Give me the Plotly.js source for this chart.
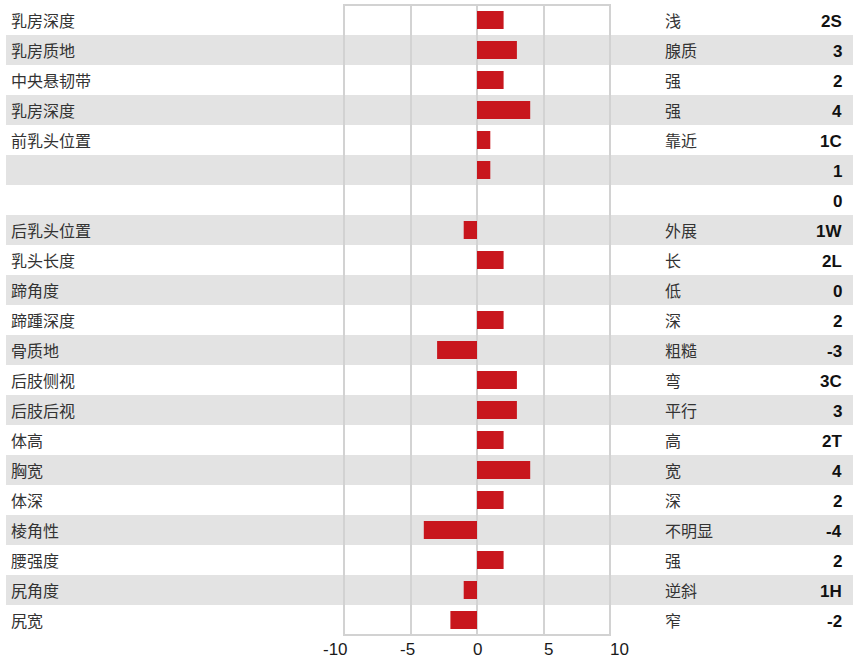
<!DOCTYPE html>
<html>
<head>
<meta charset="utf-8">
<script src="https://cdn.plot.ly/plotly-3.0.1.min.js"></script>
<style>html,body{margin:0;padding:0;background:#fff;}#chart{width:861px;height:659px;}</style>
</head>
<body>
<div id="chart"></div>
<script>
const traitNames = ["乳房深度","乳房质地","中央悬韧带","乳房深度","前乳头位置","","","后乳头位置","乳头长度","蹄角度","蹄踵深度","骨质地","后肢侧视","后肢后视","体高","胸宽","体深","棱角性","腰强度","尻角度","尻宽"];
const traitDescriptions = ["浅","腺质","强","强","靠近","","","外展","长","低","深","粗糙","弯","平行","高","宽","深","不明显","强","逆斜","窄"];
const scoreLabels = ["2S","3","2","4","1C","1","0","1W","2L","0","2","-3","3C","3","2T","4","2","-4","2","1H","-2"];
const barValues = [2,3,2,4,1,1,0,-1,2,0,2,-3,3,3,2,4,2,-4,2,-1,-2];
const xTicks = [-10,-5,0,5,10];

const rowIdx = traitNames.map((_, i) => i);

const W = 861, H = 659, L = 344, R = 251, T = 5, B = 24;
const plotW = W - L - R, plotH = H - T - B;
const px = v => (v - L) / plotW;
const py = v => (H - B - v) / plotH;

const shapes = [];
rowIdx.forEach(i => {
  if (i % 2 === 1) {
    shapes.push({type:'rect', layer:'below', xref:'paper', yref:'y',
      x0: px(6), x1: px(853), y0: i - 0.5, y1: i + 0.5,
      fillcolor:'#e3e3e3', line:{width:0}});
  }
});
shapes.push({type:'rect', layer:'above', xref:'paper', yref:'paper',
  x0:0, x1:1, y0:0, y1:1, line:{color:'#d2d2d2', width:2}, fillcolor:'rgba(0,0,0,0)'});

const cjk = '"Noto Sans CJK SC", sans-serif';
const latin = '"Liberation Sans", Arial, sans-serif';
const annotations = [];
rowIdx.forEach(i => {
  if (traitNames[i]) annotations.push({xref:'paper', yref:'y', x:px(9), y:i, text:traitNames[i],
    xanchor:'left', yanchor:'middle', showarrow:false,
    font:{family:cjk, size:16, color:'#333333'}});
  if (traitDescriptions[i]) annotations.push({xref:'paper', yref:'y', x:px(663), y:i, text:traitDescriptions[i],
    xanchor:'left', yanchor:'middle', showarrow:false,
    font:{family:cjk, size:16, color:'#333333'}});
  annotations.push({xref:'paper', yref:'y', x:px(844), y:i, text:'<b>' + scoreLabels[i] + '</b>',
    xanchor:'right', yanchor:'middle', showarrow:false, yshift:-1,
    font:{family:latin, size:17, color:'#111111'}});
});
xTicks.forEach(v => {
  annotations.push({xref:'x', yref:'paper', x:v, y:py(649), text:String(v),
    xanchor: v < 0 ? 'right' : (v > 0 ? 'left' : 'center'),
    xshift: v < 0 ? 5 : (v > 0 ? -1 : 0),
    yanchor:'middle', showarrow:false, borderpad:0,
    font:{family:latin, size:17, color:'#1a1a1a'}});
});

const trace = {
  type:'bar', orientation:'h', x:barValues, y:rowIdx, width:0.6,
  marker:{color:'#c8161d', line:{width:0}}, hoverinfo:'skip'
};

const layout = {
  width:W, height:H,
  margin:{l:L, r:R, t:T, b:B, pad:0},
  paper_bgcolor:'#ffffff', plot_bgcolor:'rgba(0,0,0,0)',
  showlegend:false,
  xaxis:{range:[-10,10], tickvals:xTicks, showticklabels:false, showgrid:true, gridcolor:'#d3d3d3', gridwidth:2,
    zeroline:true, zerolinecolor:'#d3d3d3', zerolinewidth:2, showline:false, ticks:'', fixedrange:true},
  yaxis:{range:[20.5,-0.5], showgrid:false, zeroline:false, showticklabels:false, ticks:'', showline:false, fixedrange:true},
  shapes:shapes, annotations:annotations
};

Plotly.newPlot('chart', [trace], layout, {displayModeBar:false, staticPlot:true});
</script>
</body>
</html>
